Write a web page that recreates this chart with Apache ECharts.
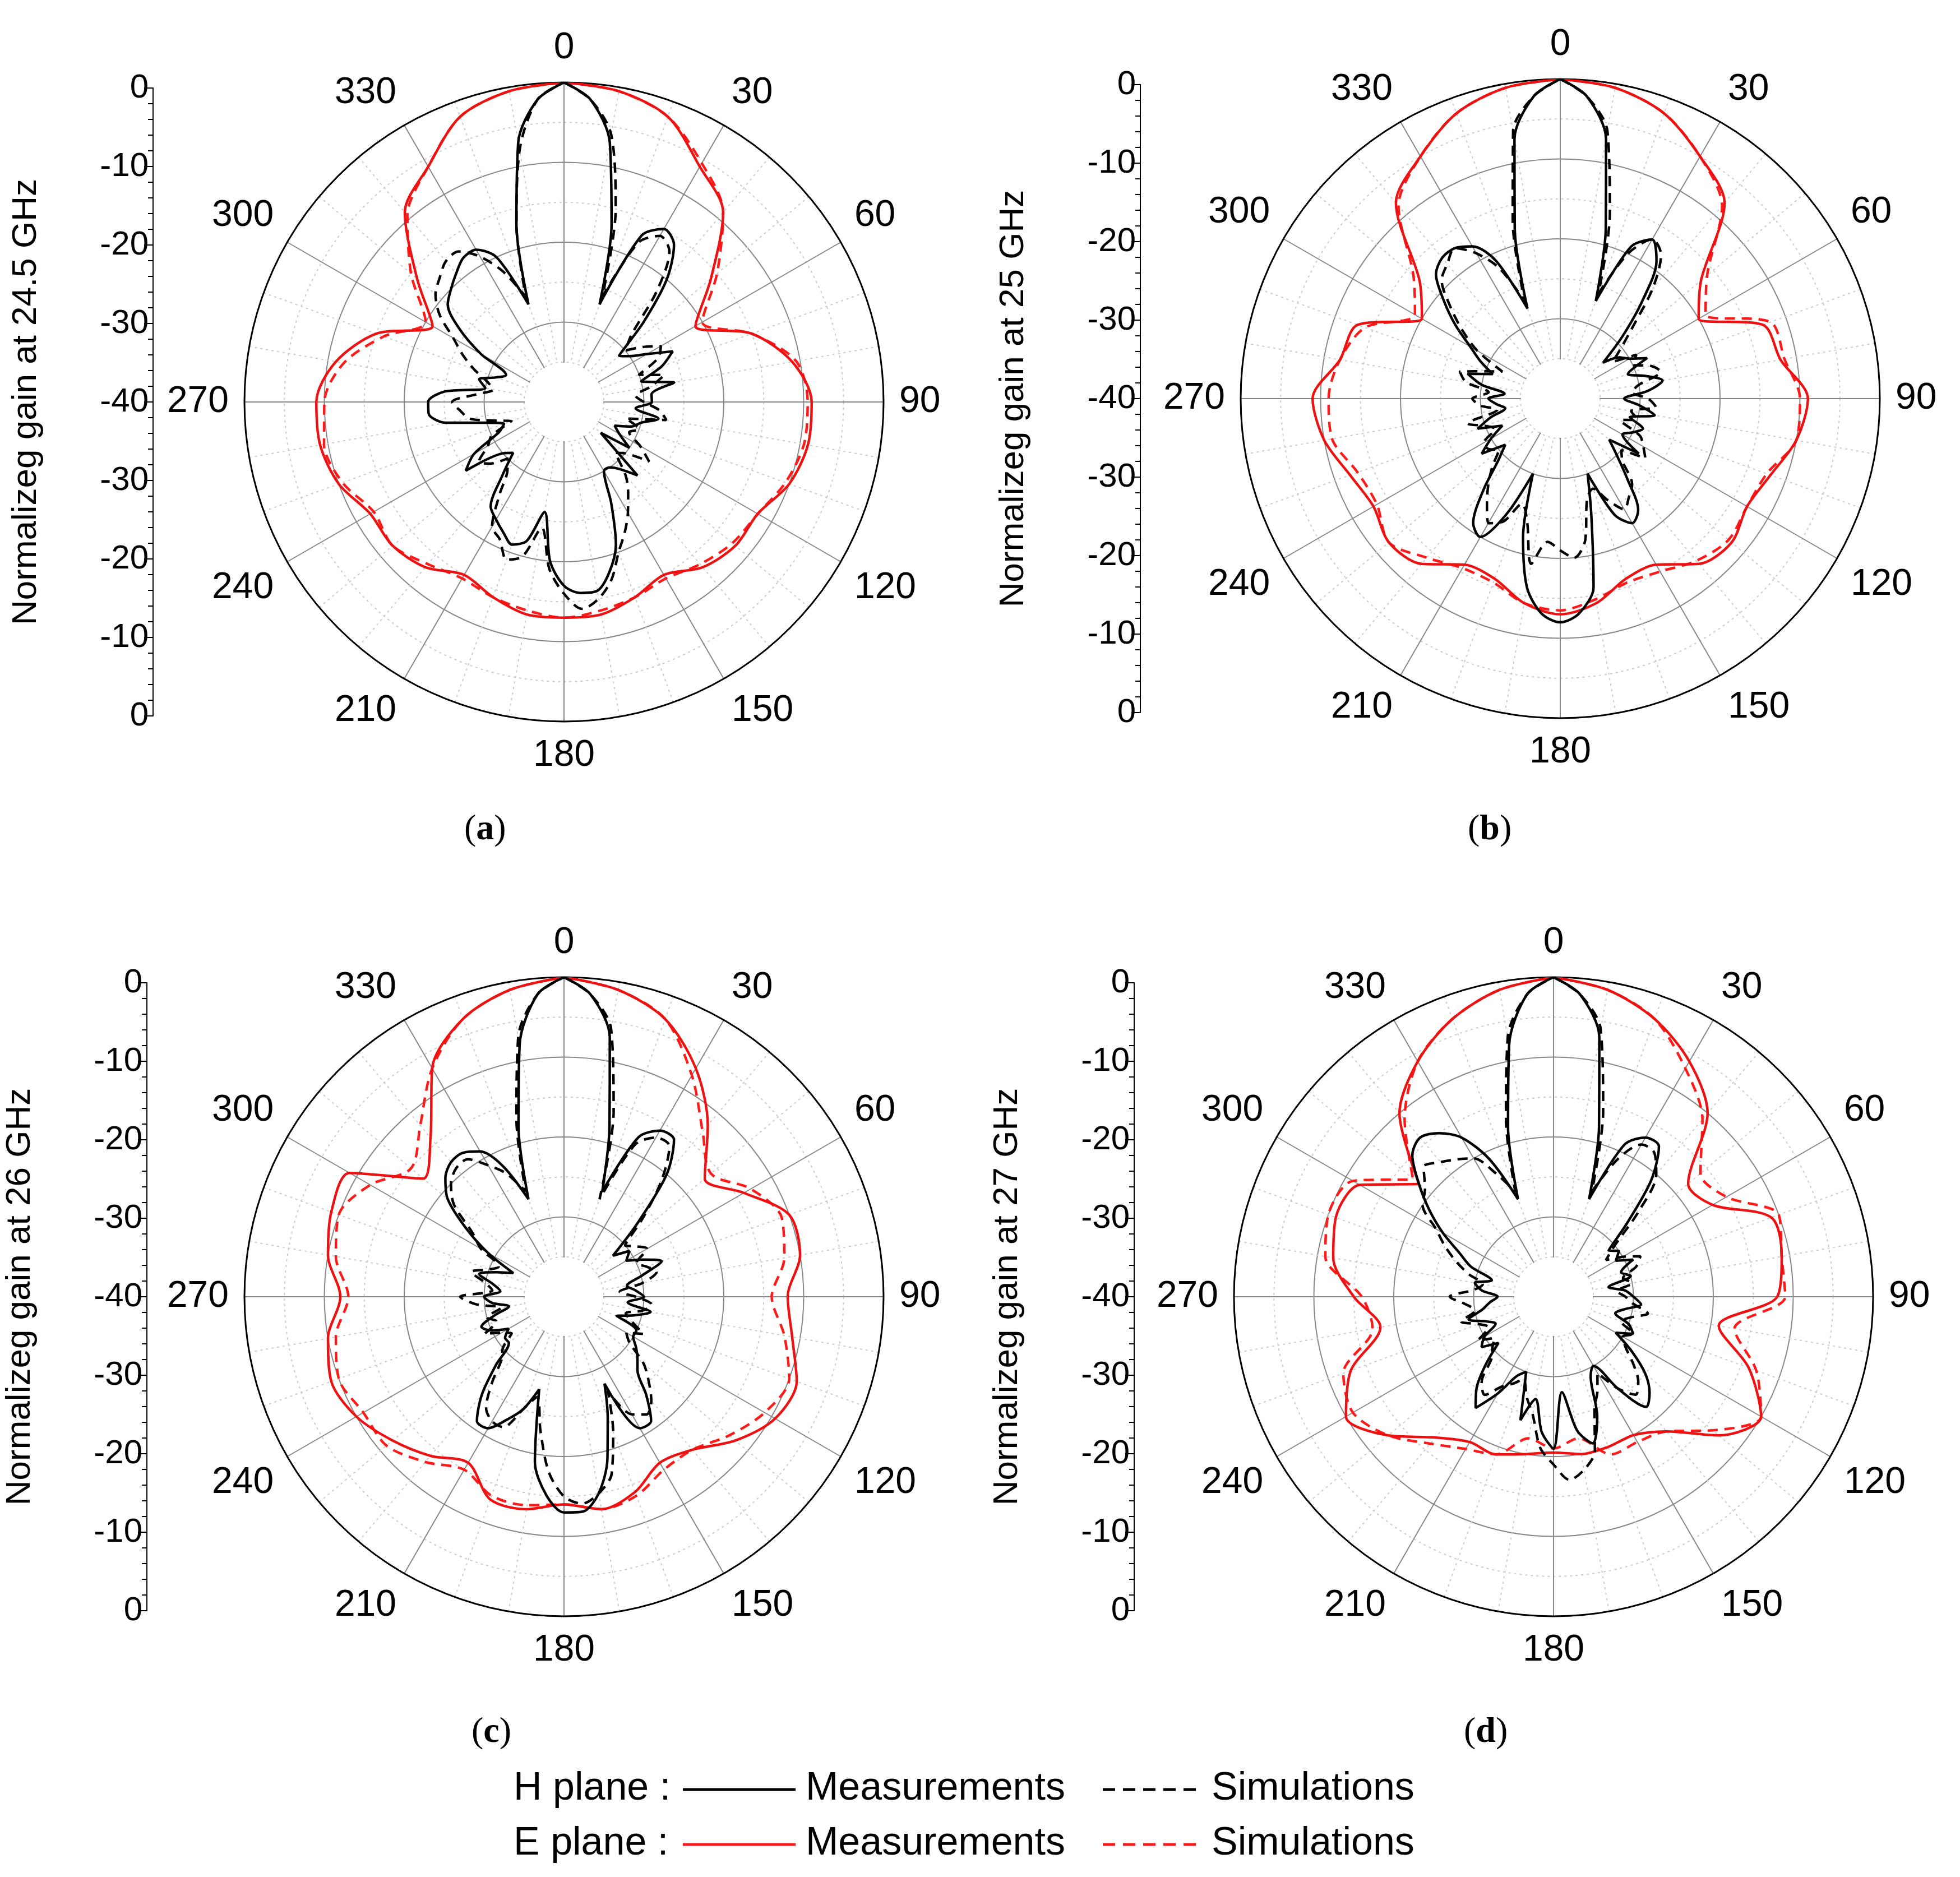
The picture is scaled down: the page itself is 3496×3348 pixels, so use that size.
<!DOCTYPE html>
<html><head><meta charset="utf-8">
<script src="https://cdn.jsdelivr.net/npm/echarts@6/dist/echarts.min.js"></script>
<style>html,body{margin:0;padding:0;background:#fff}#c{width:3496px;height:3348px}</style>
</head><body><div id="c"></div>
<script>
const angleLabels = [0,30,60,90,120,150,180,210,240,270,300,330];
const freqs = ['24.5','25','26','27'];
const captions = ['a','b','c','d'];
// E-plane, 10° steps (0..350)
const aEM=[0,-0.5,-2,-6,-9,-16,-21,-15,-11,-9,-9,-10,-12,-12,-13,-15,-14,-13,-13,-13,-14,-15,-13,-12,-12,-10,-9,-9,-11,-15,-21,-16,-9,-6,-2,-0.5];
const aES=[0,-0.5,-2,-5.5,-9,-15,-20,-15,-10.5,-9.5,-9.5,-10.5,-12,-12.5,-13.5,-14.5,-14,-13.5,-13,-13.5,-14,-14.5,-13.5,-12,-12.5,-10.5,-9.5,-10,-12,-16,-20,-15,-9.5,-6,-2,-0.5];
const bEM=[0,-0.5,-2,-5,-8,-17,-20,-13,-12,-9,-10,-12,-13,-12,-13,-16,-16,-14,-13,-14,-16,-16,-13,-12,-13,-12,-10,-9,-12,-13,-20,-17,-8,-5,-2,-0.5];
const bES=[0,-0.5,-2,-5,-8.5,-16,-19,-12,-11.5,-10,-10,-12.5,-13,-12.5,-13.5,-15,-15.5,-14.5,-13.5,-14,-15.5,-15.5,-14,-12,-13.5,-13,-11,-11,-12,-14,-19,-16,-8.5,-5,-2,-0.5];
const cEM=[0,-1,-3,-7,-12,-17,-14,-10,-10,-12,-11,-9,-9.5,-12,-15,-16,-14,-13,-14,-13,-13,-16,-14,-12,-10,-9,-10,-12,-10,-9,-9,-17,-14,-7,-3,-1];
const cES=[0,-1,-3,-8,-13,-16,-13,-11,-12,-14,-12,-10,-11,-13,-15,-15,-13.5,-13,-14,-13.5,-13.5,-15,-13,-11,-11,-10,-11,-13,-11,-10,-12,-15,-12,-7,-3,-1];
const dEM=[0,-1,-3,-6,-10,-18,-17,-11,-11,-12,-19,-14,-10,-13,-18,-20,-20,-20,-20.5,-20,-19,-19,-17,-13,-10,-13,-18,-15,-12,-11,-12,-18,-10,-6,-3,-1];
const dES=[0,-1,-3,-7,-11,-16,-15,-10,-11,-11,-17,-13,-10,-14,-18,-19,-19,-22,-21,-22,-19,-18,-16,-13,-11,-12,-17,-16,-11,-10,-11,-17,-11,-6,-3,-1];
// H-plane, 5° steps (0..355)
const aHM=[0,-2,-7,-17,-27,-17, -15,-16,-20,-26,-31,-30, -28,-25,-27,-30,-26,-29, -29,-31,-28,-30,-31,-33, -32,-30,-34,-27,-29,-30, -30,-26,-21,-18,-16,-16, -17,-20,-26,-22,-21,-22, -23,-24,-28,-31,-30,-25, -27,-31,-32,-30,-25,-23, -23,-25,-30,-29,-31,-32, -28,-24,-21,-20,-19,-18, -18,-20,-27,-17,-7,-2];
const aHS=[0,-2,-6,-15,-26,-18, -16,-17,-22,-28,-30,-28, -26,-27,-30,-27,-29,-31, -30,-28,-27,-32,-30,-31, -29,-27,-30,-31,-28,-26, -24,-22,-20,-17,-15,-14, -16,-19,-24,-20,-19,-21, -22,-26,-29,-30,-28,-27, -29,-30,-33,-31,-28,-27, -26,-29,-31,-30,-28,-26, -24,-21,-19,-18,-17,-17, -19,-22,-26,-17,-8,-2];
const bHM=[0,-2,-7,-18,-27,-19, -17,-19,-24,-29,-33,-31, -30,-28,-31,-29,-27,-29, -32,-30,-28,-31,-29,-30, -31,-28,-32,-30,-27,-23, -22,-24,-30,-25,-16,-13, -12,-13,-16,-22,-30,-24, -20,-21,-25,-29,-31,-28, -30,-32,-29,-31,-33,-32, -31,-33,-30,-28,-31,-29, -27,-24,-21,-18,-17,-17, -18,-21,-28,-18,-7,-2];
const bHS=[0,-2,-6,-16,-26,-20, -17,-18,-22,-27,-30,-32, -29,-30,-28,-27,-30,-31, -29,-28,-31,-30,-32,-29, -28,-27,-30,-29,-26,-25, -24,-26,-28,-27,-22,-20, -21,-22,-19,-24,-26,-23, -22,-24,-26,-28,-30,-29, -29,-31,-30,-28,-32,-30, -29,-31,-28,-27,-30,-32, -28,-25,-22,-19,-18,-17, -19,-22,-27,-17,-6,-2];
const cHM=[0,-2,-7,-18,-26,-18, -16,-16,-20,-27,-32,-30, -31,-29,-27,-30,-32,-31, -30,-32,-29,-31,-33,-30, -30,-29,-28,-27,-24,-21, -21,-28,-24,-19,-15,-13, -13,-15,-19,-28,-25,-23, -21,-21,-24,-28,-31,-31, -32,-30,-29,-31,-33,-31, -30,-32,-31,-29,-31,-33, -29,-25,-21,-19,-18,-18, -19,-22,-27,-18,-8,-2];
const cHS=[0,-2,-6,-16,-27,-19, -17,-17,-21,-26,-30,-29, -28,-30,-29,-28,-30,-33, -31,-29,-30,-32,-31,-29, -31,-30,-27,-25,-23,-22, -23,-27,-22,-17,-15,-14, -15,-18,-23,-27,-25,-22, -22,-23,-26,-29,-30,-32, -31,-29,-31,-30,-32,-29, -27,-31,-30,-28,-30,-31, -28,-26,-22,-20,-19,-19, -21,-23,-26,-17,-7,-2];
const dHM=[0,-2,-7,-18,-27,-19, -17,-17,-21,-27,-31,-30, -31,-29,-31,-30,-33,-31, -30,-29,-31,-32,-30,-29, -31,-28,-25,-23,-22,-26, -30,-29,-24,-21,-23,-28, -21,-23,-27,-24,-30,-29, -26,-23,-25,-28,-31,-29, -30,-32,-31,-29,-31,-32, -33,-31,-30,-32,-29,-27, -24,-21,-18,-15,-14,-15, -17,-21,-27,-18,-8,-2];
const dHS=[0,-2,-6,-16,-26,-21, -18,-18,-20,-25,-30,-32, -30,-28,-29,-31,-30,-32, -31,-30,-28,-30,-31,-29, -30,-29,-27,-25,-24,-26, -29,-27,-25,-20,-18,-17, -19,-21,-25,-27,-29,-28, -27,-25,-26,-29,-30,-31, -29,-31,-30,-28,-30,-29, -27,-30,-31,-29,-27,-25, -23,-20,-19,-17,-18,-19, -20,-23,-26,-17,-7,-2];

const panels=[
 {HM:aHM,HS:aHS,EM:aEM,ES:aES,cx:1006,cy:717,ax:273},
 {HM:bHM,HS:bHS,EM:bEM,ES:bES,cx:2783,cy:711,ax:2034},
 {HM:cHM,HS:cHS,EM:cEM,ES:cES,cx:1006,cy:2313,ax:262},
 {HM:dHM,HS:dHS,EM:dEM,ES:dES,cx:2771,cy:2313,ax:2023}
];
const R=570;
function toData(arr,step){const d=arr.map((v,i)=>[v,i*step]);d.push([arr[0],360]);return d;}
const polar=[],angleAxis=[],radiusAxis=[],grid=[],xAxis=[],yAxis=[],series=[],graphic=[];
const font='Liberation Sans';
panels.forEach((p,i)=>{
  polar.push({center:[p.cx,p.cy],radius:R});
  angleAxis.push({polarIndex:i,type:'value',min:0,max:360,interval:30,startAngle:90,clockwise:true,
    axisLine:{lineStyle:{color:'#000',width:3}},axisTick:{show:false},
    axisLabel:{fontSize:66,color:'#000',fontFamily:font,margin:28,formatter:v=>v===360?'':String(v)},
    splitLine:{lineStyle:{color:'#888',width:2}},
    minorTick:{show:false,splitNumber:3},minorSplitLine:{show:true,lineStyle:{color:'#ccc',type:[4,6],width:2}}});
  radiusAxis.push({polarIndex:i,type:'value',min:-40,max:0,interval:10,
    axisLine:{show:false},axisTick:{show:false},axisLabel:{show:false},
    splitLine:{lineStyle:{color:'#888',width:2}},
    minorTick:{show:false,splitNumber:2},minorSplitLine:{show:true,lineStyle:{color:'#ccc',type:[4,6],width:2}}});
  grid.push({left:p.ax,width:1,top:p.cy-R+10,height:2*(R-10)});
  xAxis.push({gridIndex:i,type:'value',show:false});
  yAxis.push({gridIndex:i,type:'value',min:-40,max:40,interval:10,position:'left',
    name:'Normalizeg gain at '+freqs[i]+' GHz',nameLocation:'middle',nameGap:195,nameRotate:90,
    nameTextStyle:{fontSize:62,color:'#000',fontFamily:font},
    axisLine:{show:true,lineStyle:{color:'#000',width:2}},
    axisTick:{show:true,length:16,lineStyle:{color:'#000',width:2}},
    minorTick:{show:true,splitNumber:5,length:9,lineStyle:{color:'#000',width:2}},
    splitLine:{show:false},
    axisLabel:{fontSize:60,color:'#000',fontFamily:font,formatter:v=>{const t=Math.abs(v)-40;return t===0?'0':String(t);}}});
  const mk=(arr,step,color,dash)=>({type:'line',coordinateSystem:'polar',polarIndex:i,data:toData(arr,step),
    smooth:0.3,symbol:'none',lineStyle:{color:color,width:4.5,type:dash?[18,12]:'solid'},silent:true,animation:false});
  series.push(mk(p.ES,10,'#ff1a1a',true),mk(p.EM,10,'#ee1111',false),mk(p.HS,5,'#000',true),mk(p.HM,5,'#000',false));
  graphic.push({type:'circle',shape:{cx:p.cx,cy:p.cy,r:70},style:{fill:'#fff'},z:100});
});
const capPos=[[828,1448],[2618,1448],[841,3058],[2611,3058]];
capPos.forEach((c,i)=>graphic.push({type:'text',x:c[0],y:c[1],z:100,style:{
  text:'({b|'+captions[i]+'})',font:'64px "Liberation Serif"',fill:'#000',
  rich:{b:{fontWeight:'bold',fontSize:64,fontFamily:'Liberation Serif'}}}}));
// legend
const lf='70px "Liberation Sans"';
[[3156,'H plane :','#000'],[3254,'E plane :','#ff1a1a']].forEach(r=>{
  const y=r[0];
  graphic.push({type:'text',x:916,y:y,z:100,style:{text:r[1],font:lf,fill:'#000'}});
  graphic.push({type:'line',z:100,shape:{x1:1218,y1:y+36,x2:1419,y2:y+36},style:{stroke:r[2],lineWidth:5}});
  graphic.push({type:'text',x:1437,y:y,z:100,style:{text:'Measurements',font:lf,fill:'#000'}});
  graphic.push({type:'line',z:100,shape:{x1:1967,y1:y+36,x2:2134,y2:y+36},style:{stroke:r[2],lineWidth:5,lineDash:[22,14]}});
  graphic.push({type:'text',x:2161,y:y,z:100,style:{text:'Simulations',font:lf,fill:'#000'}});
});
const chart=echarts.init(document.getElementById('c'),null,{renderer:'canvas'});
chart.setOption({animation:false,backgroundColor:'#fff',polar,angleAxis,radiusAxis,grid,xAxis,yAxis,series,graphic});
</script></body></html>
